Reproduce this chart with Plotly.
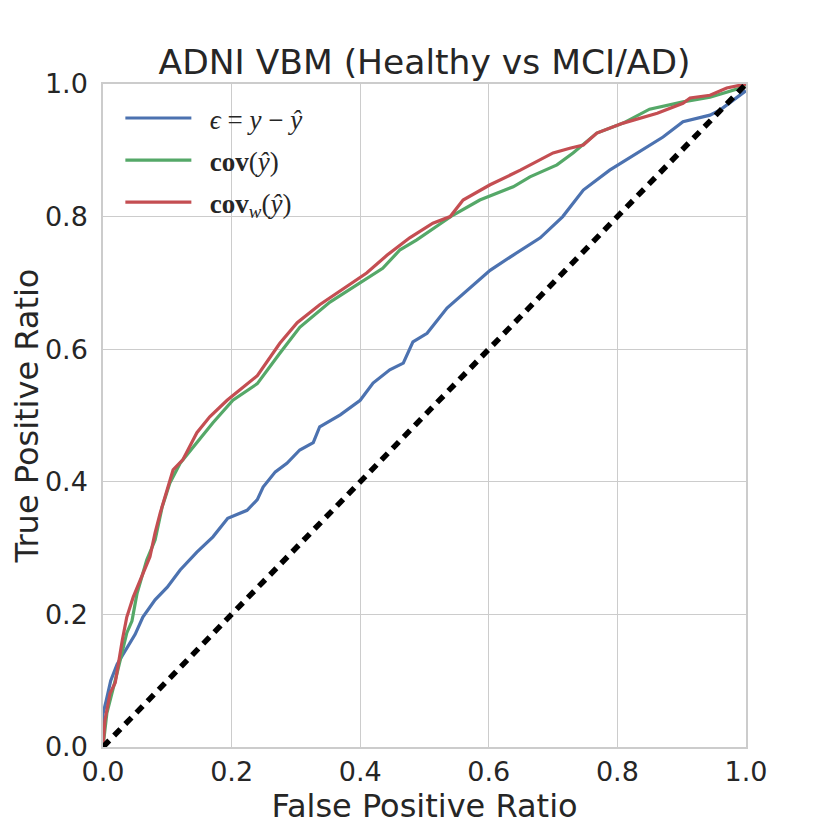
import plotly.graph_objects as go

# ---- data ----
blue_x = [0, 0, 0.005, 0.012, 0.022, 0.035, 0.05, 0.062, 0.081, 0.1, 0.12, 0.146, 0.171, 0.194, 0.224,
          0.24, 0.249, 0.268, 0.286, 0.306, 0.327, 0.337, 0.369, 0.4, 0.42, 0.446, 0.467, 0.482, 0.504,
          0.535, 0.566, 0.602, 0.638, 0.68, 0.715, 0.739, 0.747, 0.788, 0.83, 0.871, 0.902, 0.944, 0.96, 1.0]
blue_y = [0, 0.05, 0.07, 0.1, 0.125, 0.145, 0.17, 0.196, 0.222, 0.241, 0.267, 0.294, 0.317, 0.345, 0.357,
          0.373, 0.392, 0.415, 0.428, 0.448, 0.459, 0.483, 0.501, 0.523, 0.549, 0.569, 0.579, 0.611, 0.624,
          0.662, 0.689, 0.719, 0.742, 0.768, 0.8, 0.83, 0.84, 0.87, 0.896, 0.92, 0.943, 0.953, 0.961, 0.99]

green_x = [0, 0.003, 0.006, 0.022, 0.037, 0.045, 0.053, 0.068, 0.081, 0.092, 0.104, 0.12, 0.146, 0.171,
           0.202, 0.24, 0.275, 0.306, 0.353, 0.4, 0.435, 0.462, 0.488, 0.544, 0.586, 0.638, 0.664, 0.706,
           0.731, 0.768, 0.809, 0.85, 0.902, 0.944, 0.995, 1.0]
green_y = [0, 0.03, 0.051, 0.112, 0.172, 0.19, 0.232, 0.282, 0.312, 0.362, 0.398, 0.428, 0.459, 0.489,
           0.523, 0.548, 0.594, 0.633, 0.671, 0.701, 0.722, 0.75, 0.765, 0.802, 0.825, 0.845, 0.86, 0.878,
           0.896, 0.926, 0.941, 0.962, 0.973, 0.98, 0.995, 1.0]

red_x = [0, 0.003, 0.011, 0.019, 0.03, 0.037, 0.047, 0.058, 0.073, 0.081, 0.089, 0.109, 0.124, 0.146,
         0.166, 0.193, 0.24, 0.275, 0.302, 0.337, 0.379, 0.41, 0.442, 0.477, 0.513, 0.54, 0.56, 0.602,
         0.649, 0.7, 0.726, 0.747, 0.768, 0.809, 0.862, 0.902, 0.913, 0.944, 0.97, 0.995, 1.0]
red_y = [0, 0.04, 0.081, 0.097, 0.161, 0.196, 0.226, 0.252, 0.287, 0.323, 0.353, 0.418, 0.433, 0.474,
         0.498, 0.523, 0.56, 0.609, 0.64, 0.667, 0.694, 0.715, 0.742, 0.768, 0.79, 0.8, 0.825, 0.848,
         0.87, 0.896, 0.903, 0.908, 0.926, 0.941, 0.956, 0.971, 0.979, 0.983, 0.994, 0.998, 1.0]

diag_x = [0, 1]
diag_y = [0, 1]

labels = ["  <i>ϵ</i> = <i>y</i> − <i>ŷ</i>",
          "  <b>cov</b>(<i>ŷ</i>)",
          "  <b>cov</b><sub><i>w</i></sub>(<i>ŷ</i>)"]
colors = ["#4C72B0", "#55A868", "#C44E52"]

tick_vals = [0, 0.2, 0.4, 0.6, 0.8, 1.0]
tick_text = ["0.0", "0.2", "0.4", "0.6", "0.8", "1.0"]

fig = go.Figure()
for i, (xs, ys, name, c) in enumerate(zip([blue_x, green_x, red_x], [blue_y, green_y, red_y], labels, colors)):
    fig.add_trace(go.Scatter(x=xs, y=ys, mode="lines", name=name, legendgroup="g%d" % i,
                             line=dict(color=c, width=3.2)))
fig.add_trace(go.Scatter(x=diag_x, y=diag_y, mode="lines", showlegend=False,
                         line=dict(color="black", width=5.5, dash="9px,7px")))

axis_common = dict(range=[0, 1], tickvals=tick_vals, ticktext=tick_text,
                   showgrid=True, gridcolor="#cccccc", gridwidth=1.3,
                   showline=True, linecolor="#cccccc", linewidth=1.5, mirror=True,
                   zeroline=False, tickcolor="rgba(0,0,0,0)",
                   automargin=False,
                   tickfont=dict(size=27, color="#262626", family="DejaVu Sans"))

fig.update_layout(
    width=822, height=822,
    margin=dict(l=95, r=84, t=76, b=83),
    paper_bgcolor="white", plot_bgcolor="white",
    title=dict(text="ADNI VBM (Healthy vs MCI/AD)", x=0.5, xanchor="center",
               xref="paper", y=0.92, yanchor="bottom",
               font=dict(size=34.5, color="#262626", family="DejaVu Sans")),
    xaxis=dict(**axis_common, ticks="",
               title=dict(text="False Positive Ratio", standoff=4,
                          font=dict(size=32, color="#262626", family="DejaVu Sans"))),
    yaxis=dict(**axis_common, ticks="outside", ticklen=8,
               title=dict(text="True Positive Ratio", standoff=10,
                          font=dict(size=32, color="#262626", family="DejaVu Sans"))),
    legend=dict(x=0.027, y=0.985, xanchor="left", yanchor="top",
                bgcolor="rgba(0,0,0,0)", itemwidth=66, traceorder="grouped",
                font=dict(size=27, color="#262626", family="Liberation Serif"),
                tracegroupgap=4),
    showlegend=True,
)

fig.write_html("out.html")
